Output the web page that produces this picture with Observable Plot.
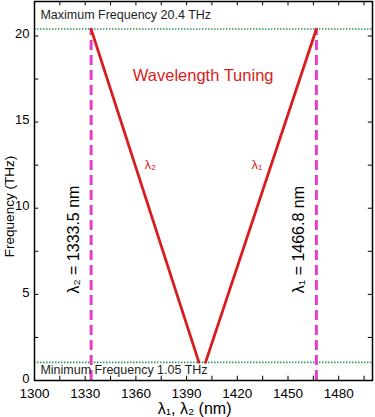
<!DOCTYPE html>
<html><head><meta charset="utf-8">
<script src="https://cdn.jsdelivr.net/npm/d3@7"></script>
<script src="https://cdn.jsdelivr.net/npm/@observablehq/plot@0.6"></script>
<style>body{margin:0;background:#fff} svg{display:block}</style>
</head><body><div id="chart"></div>
<script>
// Data
const lambda2Wavelengths = [1333.5, 1397.3];
const lambda2Frequencies = [20.4, 1.05];
const lambda1Wavelengths = [1401.2, 1466.8];
const lambda1Frequencies = [1.05, 20.4];
const maxFrequency = 20.4;
const minFrequency = 1.05;
const lambda2Fixed = 1333.5;
const lambda1Fixed = 1466.8;
const xTickLabels = [1300, 1330, 1360, 1390, 1420, 1450, 1480];
const xMinorTicks = [1300, 1315, 1330, 1345, 1360, 1375, 1390, 1405, 1420, 1435, 1450, 1465, 1480, 1495];
const yTickLabels = [0, 5, 10, 15, 20];
const yMinorTicks = [0, 2.5, 5, 7.5, 10, 12.5, 15, 17.5, 20];

const line2 = lambda2Wavelengths.map((w, i) => ({w, f: lambda2Frequencies[i]}));
const line1 = lambda1Wavelengths.map((w, i) => ({w, f: lambda1Frequencies[i]}));

const red = "#d91c1c";
const magenta = "#e43fc6";
const green = "#2f9a55";

const chart = Plot.plot({
  width: 375,
  height: 417,
  marginLeft: 34,
  marginRight: 3,
  marginTop: 1,
  marginBottom: 37,
  style: {fontFamily: "'Liberation Sans', Arial, sans-serif", color: "black", background: "white"},
  x: {domain: [1300, 1500], label: null},
  y: {domain: [0, 22], label: null},
  marks: [
    Plot.ruleY([maxFrequency, minFrequency], {y: d => d, stroke: green, strokeWidth: 1.6, strokeDasharray: "1.5,1.5"}),
    Plot.ruleX([lambda2Fixed, lambda1Fixed], {x: d => d, y1: 0, y2: maxFrequency, stroke: magenta, strokeWidth: 3, strokeDasharray: "10,5"}),
    Plot.line(line2, {x: "w", y: "f", stroke: red, strokeWidth: 2.8}),
    Plot.line(line1, {x: "w", y: "f", stroke: red, strokeWidth: 2.8}),
    // inward ticks
    Plot.ruleX(xMinorTicks, {x: d => d, y1: 0, y2: 0.25, stroke: "black"}),
    Plot.ruleX(xMinorTicks, {x: d => d, y1: 22, y2: 21.75, stroke: "black"}),
    Plot.ruleY(yMinorTicks, {y: d => d, x1: 1300, x2: 1302.5, stroke: "black"}),
    Plot.ruleY(yMinorTicks, {y: d => d, x1: 1500, x2: 1497.5, stroke: "black"}),
    Plot.frame({stroke: "black", strokeWidth: 1.5}),
    Plot.axisX(xTickLabels, {tickSize: 0, tickPadding: 8, fontSize: 13.5, tickFormat: d => String(d), label: null}),
    Plot.axisY(yTickLabels, {tickSize: 0, tickPadding: 5, fontSize: 13, dy: -2, tickFormat: d => String(d), label: null}),
    // annotations
    Plot.text(["Maximum Frequency 20.4 THz"], {x: 1303.5, y: 20.96, text: d => d, textAnchor: "start", lineAnchor: "bottom", fontSize: 12.5, fill: "#222"}),
    Plot.text(["Minimum Frequency 1.05 THz"], {x: 1303.5, y: 0.35, text: d => d, textAnchor: "start", lineAnchor: "bottom", fontSize: 12.5, fill: "#222"}),
    Plot.text(["Wavelength Tuning"], {x: 1399.8, y: 17.7, text: d => d, fontSize: 16.5, fill: red}),
    Plot.text(["λ₂"], {x: 1368.5, y: 12.5, text: d => d, fontSize: 13, fill: red}),
    Plot.text(["λ₁"], {x: 1431.6, y: 12.5, text: d => d, fontSize: 13, fill: red}),
    Plot.text(["λ₂ = 1333.5 nm"], {x: 1323.1, y: 8.18, text: d => d, rotate: -90, fontSize: 16, fill: "black"}),
    Plot.text(["λ₁ = 1466.8 nm"], {x: 1456.2, y: 8.18, text: d => d, rotate: -90, fontSize: 16, fill: "black"}),
    Plot.text(["Frequency (THz)"], {x: 1300, y: 10.1, dx: -25, text: d => d, rotate: -90, fontSize: 13.5, fill: "black"}),
    Plot.text(["λ₁, λ₂ (nm)"], {x: 1394.7, y: 0, dy: 28, text: d => d, fontSize: 16, fill: "black"})
  ]
});
document.getElementById("chart").appendChild(chart);
</script>
</body></html>
